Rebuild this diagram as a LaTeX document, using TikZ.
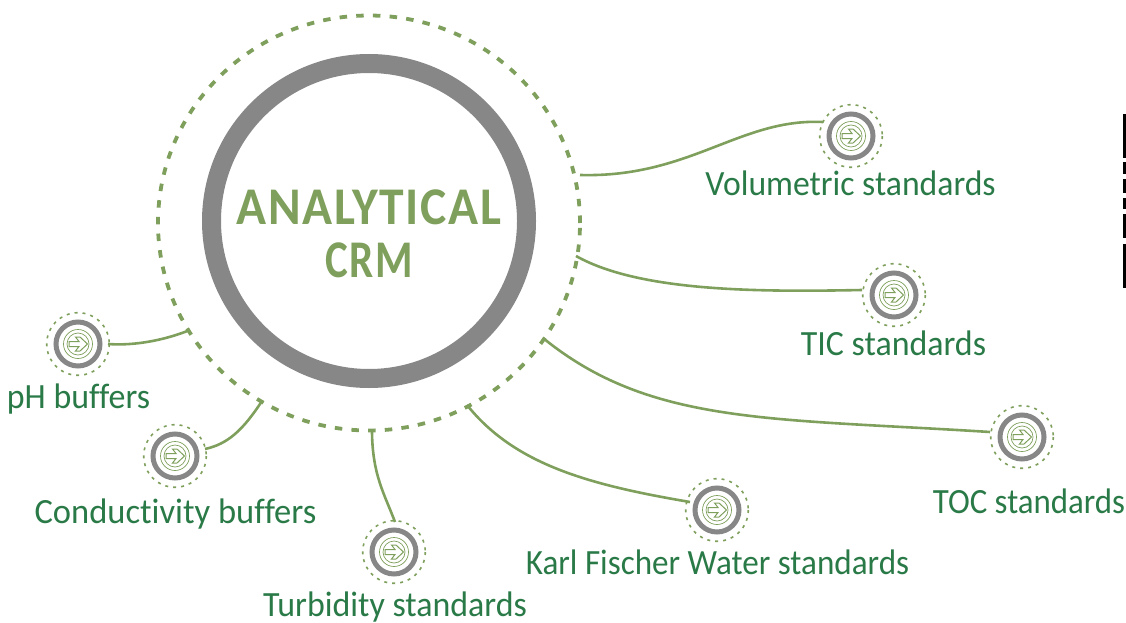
\documentclass[tikz,border=0pt]{standalone}
\usepackage{graphicx}
\usepackage{fontspec}
\setmainfont[FakeStretch=.955,Ligatures=CommonOff]{Carlito}
\newfontfamily\titlefont[FakeStretch=.935,LetterSpace=3,Ligatures=CommonOff]{Carlito}
\newfontfamily\crmfont[FakeStretch=.81,LetterSpace=3,Ligatures=CommonOff]{Carlito}
\usetikzlibrary{shapes.geometric}
\definecolor{leaf}{HTML}{7F9F5C}
\definecolor{ringgray}{HTML}{878787}
\definecolor{labelgreen}{HTML}{2A7A48}
\tikzset{
 x=1pt,y=-1pt,
 link/.style={draw=leaf,line width=2.6pt},
 lab/.style={text=labelgreen,font=\fontsize{35.5}{35.5}\selectfont,inner sep=0pt,anchor=base},
 title/.style={text=leaf,font=\titlefont\bfseries\fontsize{53}{53}\selectfont,inner sep=0pt,anchor=base},
 crmtitle/.style={text=leaf,font=\crmfont\bfseries\fontsize{53}{53}\selectfont,inner sep=0pt,anchor=base},
 iconcore/.style={circle,draw=ringgray,line width=5pt,minimum size=44pt,inner sep=0pt},
 icon/.pic={
  \draw[leaf,line width=1.6pt,dash pattern=on 3pt off 5pt] (0,0) circle (31.3);
  \draw[leaf,line width=.7pt] (0,0) circle (14.5);
  \draw[leaf,line width=.7pt] (0,0) circle (11);
  \draw[leaf,line width=1pt,line join=miter] (-9,-2.5)--(1,-2.5)--(-2.5,-7)--(2,-7)--(9.5,0)--(2,7)--(-2.5,7)--(1,2.5)--(-9,2.5)--cycle;
 }
}
\begin{document}
\begin{tikzpicture}
\useasboundingbox (0,0) rectangle (1126,623);
% centre
\node[ellipse,draw=leaf,line width=3.8pt,dash pattern=on 7.5pt off 9.2pt,minimum width=422pt,minimum height=415pt,inner sep=0pt] (outer) at (369,223) {};
\node[circle,draw=ringgray,line width=19pt,minimum size=315pt,inner sep=0pt] (ring) at (369,221) {};
\node[title] (t1) at (369,224.5) {ANALYTICAL};
\node[crmtitle] (t2) at (369,277) {CRM};
% icons
\foreach \n/\x/\y in {vol/851/136,tic/894/295,toc/1022/437,kf/717/510,tur/394/552,con/175/456,ph/78/344}{
 \pic at (\x,\y) {icon};
 \node[iconcore] (\n) at (\x,\y) {};
}
% free ends
\coordinate (a1) at (580,175);
\coordinate (a2) at (576,256);
\coordinate (a3) at (543,338);
\coordinate (a4) at (467,405);
\coordinate (a5) at (372,430);
\coordinate (a6) at (262,401);
\coordinate (a7) at (190,330);
\coordinate (b1) at (823,122);
\coordinate (b2) at (862,290);
\coordinate (b3) at (990,432);
\coordinate (b4) at (690,502);
\coordinate (b5) at (395,522);
\coordinate (b6) at (205,449);
\coordinate (b7) at (108,344);
\draw[link] (a1) .. controls (690,178) and (740,118) .. (b1);
\draw[link] (a2) .. controls (640,292) and (760,292) .. (b2);
\draw[link] (a3) .. controls (650,425) and (770,418) .. (b3);
\draw[link] (a4) .. controls (515,465) and (590,485) .. (b4);
\draw[link] (a5) .. controls (372,475) and (385,495) .. (b5);
\draw[link] (a6) .. controls (243,430) and (228,444) .. (b6);
\draw[link] (a7) .. controls (165,340) and (135,346) .. (b7);
% labels
\node[lab] (l1) at (850.5,195) {\scalebox{.993}[1]{Volumetric standards}};
\node[lab] (l2) at (893.5,355) {TIC standards};
\node[lab] (l3) at (1029,513) {\scalebox{.97}[1]{TOC standards}};
\node[lab] (l4) at (717.5,574) {\scalebox{.977}[1]{Karl Fischer Water standards}};
\node[lab] (l5) at (395,616) {Turbidity standards};
\node[lab] (l6) at (175.5,523) {\scalebox{1.018}[1]{Conductivity buffers}};
\node[lab] (l7) at (78.5,408) {pH buffers};
% right edge mark
\foreach \p/\q in {114/158,162/174,179/193,198/209,214/238,244/288}
 \draw[black,line width=3pt] (1124,\p)--(1124,\q);
\end{tikzpicture}
\end{document}
